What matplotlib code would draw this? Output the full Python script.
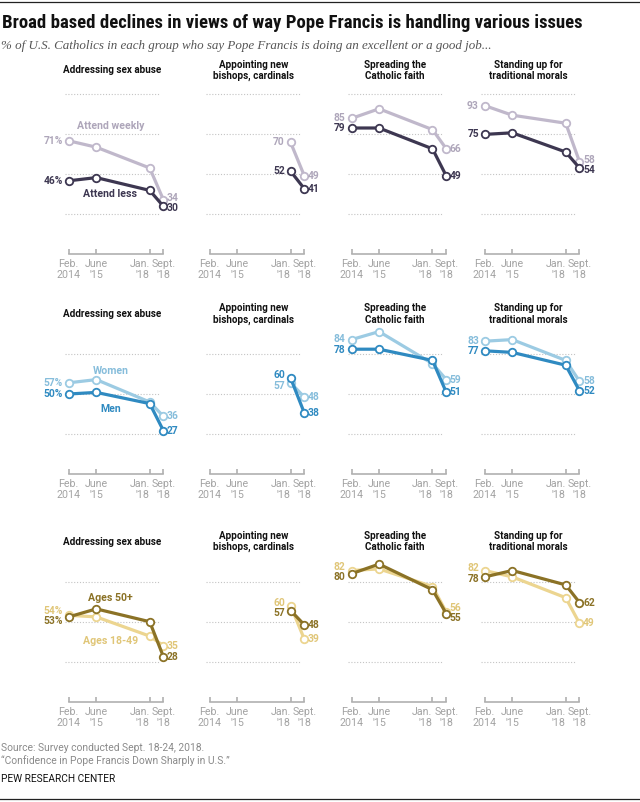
import numpy as np
import matplotlib.pyplot as plt
from matplotlib import font_manager as fm
from matplotlib.lines import Line2D

W, H = 640, 802

# survey dates (year, month) and their axis labels
dates = [(2014, 2), (2015, 6), (2018, 1), (2018, 9)]
tick_labels = ["Feb.\n2014", "June\n'15", "Jan.\n'18", "Sept.\n'18"]

issues = ["Addressing sex abuse", "Appointing new\nbishops, cardinals",
          "Spreading the\nCatholic faith", "Standing up for\ntraditional morals"]

nan = np.nan
# % saying excellent/good job, one list per issue
attend_weekly = [[71, 67, 54, 34], [nan, nan, 70, 49], [85, 91, 78, 66], [93, 87, 82, 58]]
attend_less = [[46, 48, 40, 30], [nan, nan, 52, 41], [79, 79, 66, 49], [75, 76, 64, 54]]
women = [[57, 59, 45, 36], [nan, nan, 57, 48], [84, 89, 69, 59], [83, 84, 71, 58]]
men = [[50, 51, 44, 27], [nan, nan, 60, 38], [78, 78, 71, 51], [77, 76, 68, 52]]
ages_18_49 = [[54, 53, 41, 35], [nan, nan, 60, 39], [82, 83, 72, 56], [82, 78, 65, 49]]
ages_50_plus = [[53, 58, 50, 28], [nan, nan, 57, 48], [80, 86, 70, 55], [78, 82, 73, 62]]

rows = [
    ("Attend weekly", attend_weekly, "Attend less", attend_less),
    ("Women", women, "Men", men),
    ("Ages 18-49", ages_18_49, "Ages 50+", ages_50_plus),
]
# (light line, dark line, light text)
colors = [("#c0b8cb", "#3d3751", "#aea6ba"),
          ("#9ccbe3", "#2f8ac1", "#86bddb"),
          ("#ecd590", "#8b7226", "#e0c678")]
# where the series names sit in the first panel: (light), (dark) as (x year, y pct)
name_pos = [((2016.15, 80), (2016.1, 38)),
            ((2016.15, 64.5), (2016.15, 40.5)),
            ((2016.15, 38), (2016.15, 65))]
grid_levels = [[25, 50, 75, 100], [25, 50, 75], [25, 50, 75]]
title_level = [115, 100, 100]


# a narrow bold face for the headline, the Pew charts use a condensed gothic
def pick_narrow():
    fl = fm.fontManager.ttflist
    names = {f.name for f in fl}
    for n in ["Roboto Condensed", "Liberation Sans Narrow", "Noto Sans Condensed",
              "Open Sans Condensed", "DejaVu Sans Condensed", "Arial Narrow"]:
        if n in names:
            return {"family": [n, "DejaVu Sans"]}
    for n in ["Noto Sans", "Open Sans", "DejaVu Sans", "Roboto"]:
        for f in fl:
            st = f.stretch
            cond = (st in ("condensed", "semi-condensed", "extra-condensed")) or \
                   (isinstance(st, (int, float)) and st < 500)
            if f.name == n and cond:
                return {"family": [n, "DejaVu Sans"], "fontstretch": "condensed"}
    return {"family": ["Roboto", "Liberation Sans", "DejaVu Sans"]}


NARROW = pick_narrow()
SANS = {"family": ["Roboto", "Liberation Sans", "DejaVu Sans"]}
SERIF = {"family": ["Liberation Serif", "DejaVu Serif"]}

x = [y + (m - 0.5) / 12 for y, m in dates]

feb_px = [68.7, 209.6, 351.5, 484.7]
zero_px = [254.4, 474.0, 701.7]
PX_YR, PX_PCT = 20.68, 1.6
XMIN, XMAX = 2013.2, 2019.8
YMIN, YMAX = -12, 118
LABEL_GAP = 10.5   # px between two stacked value labels

fig = plt.figure(figsize=(W / 100, H / 100), dpi=100)


def spread(ys, gap):
    # push two label positions (in px) apart if they collide
    if abs(ys[0] - ys[1]) < gap:
        mid = (ys[0] + ys[1]) / 2
        s = 1 if ys[0] >= ys[1] else -1
        return [mid + s * gap / 2, mid - s * gap / 2]
    return ys


panel_titles = []
for r, (light_name, light_vals, dark_name, dark_vals) in enumerate(rows):
    c_light, c_dark, t_light = colors[r]
    for c in range(4):
        left = feb_px[c] - (x[0] - XMIN) * PX_YR
        bottom = zero_px[r] - YMIN * PX_PCT
        ax = fig.add_axes([left / W, 1 - bottom / H,
                           (XMAX - XMIN) * PX_YR / W, (YMAX - YMIN) * PX_PCT / H])
        ax.set_facecolor("none")
        ax.set_xlim(XMIN, XMAX)
        ax.set_ylim(YMIN, YMAX)
        for s in ["top", "left", "right"]:
            ax.spines[s].set_visible(False)
        ax.spines["bottom"].set_position(("data", 0))
        ax.spines["bottom"].set_bounds(x[0], x[-1])
        ax.spines["bottom"].set_color("#b0b0b0")
        ax.spines["bottom"].set_linewidth(1.2)
        ax.set_yticks([])
        ax.set_xticks(x)
        ax.set_xticklabels(tick_labels, fontsize=7.7, color="#a3a3a3",
                           linespacing=1.1, **SANS)
        labs = ax.get_xticklabels()
        labs[2].set_ha("right")
        labs[2].set_multialignment("right")
        ax.tick_params(axis="x", direction="in", length=3.5, width=1.2,
                       color="#b0b0b0", pad=3.6)

        ax.hlines(grid_levels[r], x[0] - 0.16, x[-1] - 0.2, colors="#c4c4c4",
                  linestyles=(0, (1, 1.6)), linewidth=0.8, zorder=1)

        pt = ax.text((x[0] + x[-1]) / 2 - 0.18, title_level[r], issues[c], ha="center",
                     va="center", fontsize=7.1, fontweight="bold", linespacing=1.15,
                     color="#111111", **SANS)
        panel_titles.append(pt)

        series = [(light_vals[c], c_light, t_light),
                  (dark_vals[c], c_dark, c_dark)]
        for vals, col, _ in series:
            ax.plot(x, vals, color=col, lw=2.3, marker="o", ms=5.4, mfc="white",
                    mec=col, mew=1.3, solid_capstyle="round", zorder=3, clip_on=False)

        first = [int(np.where(~np.isnan(v))[0][0]) for v, _, _ in series]
        for k, (dx, ha) in enumerate([(-5.8, "right"), (3.6, "left")]):
            idxs = first if k == 0 else [3, 3]
            ys_px = [zero_px[r] - series[i][0][idxs[i]] * PX_PCT for i in range(2)]
            new_px = spread(ys_px, LABEL_GAP)
            for i, (vals, col, tcol) in enumerate(series):
                v = vals[idxs[i]]
                txt = f"{v:.0f}%" if (c == 0 and k == 0) else f"{v:.0f}"
                dy = -(new_px[i] - ys_px[i]) * 0.72
                ax.annotate(txt, (x[idxs[i]], v), xytext=(dx * 0.72, dy),
                            textcoords="offset points", ha=ha, va="center",
                            fontsize=7.4, fontweight="bold", color=tcol, zorder=4, **SANS)

        if c == 0:
            (lx, ly), (dx_, dy_) = name_pos[r]
            ax.text(lx, ly, light_name, ha="center", va="center", fontsize=7.6,
                    fontweight="bold", color=t_light, **SANS)
            ax.text(dx_, dy_, dark_name, ha="center", va="center", fontsize=7.6,
                    fontweight="bold", color=c_dark, **SANS)


def ftext(xp, yp, s, **kw):
    return fig.text(xp / W, 1 - yp / H, s, va="baseline", ha="left", **kw)


title = ftext(2, 28.3, "Broad based declines in views of way Pope Francis is handling various issues",
              fontsize=12, fontweight="bold", color="#111111", **NARROW)
sub = ftext(1, 48.5, "% of U.S. Catholics in each group who say Pope Francis is doing an excellent or a good job...",
            fontsize=10, style="italic", color="#555555", **SERIF)
src1 = ftext(1, 751, "Source: Survey conducted Sept. 18-24, 2018.", fontsize=8,
             color="#8a8a8a", **SANS)
src2 = ftext(1, 763.5, "\u201cConfidence in Pope Francis Down Sharply in U.S.\u201d", fontsize=8,
             color="#8a8a8a", **SANS)
pew = ftext(1, 782.5, "PEW RESEARCH CENTER", fontsize=8, color="#111111", **SANS)

# scale the header, footer and panel titles to the widths seen in the original
fig.canvas.draw()
rend = fig.canvas.get_renderer()
for t, target in [(title, 582), (sub, 493), (src1, 203), (pew, 114)]:
    w = t.get_window_extent(rend).width
    t.set_fontsize(t.get_fontsize() * target / w)
src2.set_fontsize(src1.get_fontsize())
w = panel_titles[0].get_window_extent(rend).width
for pt in panel_titles:
    pt.set_fontsize(pt.get_fontsize() * 98 / w)

fig.add_artist(Line2D([0, 1], [1 - 1.5 / H, 1 - 1.5 / H], color="#222222", lw=0.9))
fig.add_artist(Line2D([0, 1], [1 - 798.5 / H, 1 - 798.5 / H], color="#222222", lw=0.9))

fig.savefig("out.png", dpi=100)
